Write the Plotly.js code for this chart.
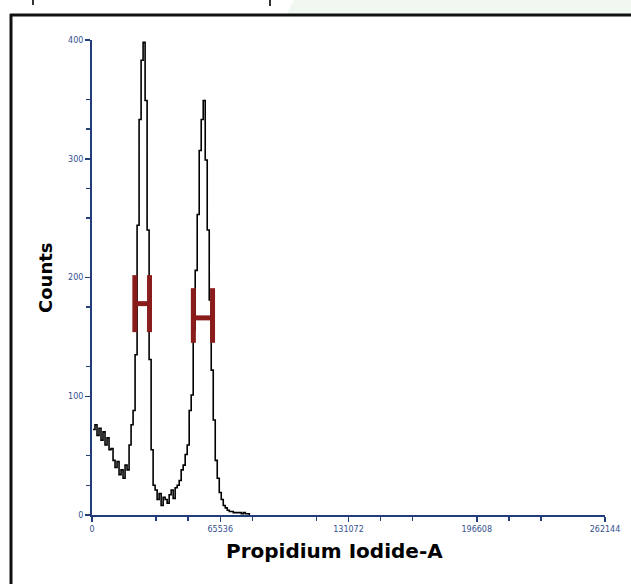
<!DOCTYPE html>
<html>
<head>
<meta charset="utf-8">
<script src="https://cdn.plot.ly/plotly-3.0.1.min.js"></script>
<style>html,body{margin:0;padding:0;background:#fff;}#chart{width:631px;height:584px;}</style>
</head>
<body>
<div id="chart"></div>
<script>
// Propidium Iodide-A channel (bin centres)
const piValues = [512,1536,2560,3584,4608,5632,6656,7680,8704,9728,
  10752,11776,12800,13824,14848,15872,16896,17920,18944,19968,
  20992,22016,23040,24064,25088,26112,27136,28160,29184,30208,
  31232,32256,33280,34304,35328,36352,37376,38400,39424,40448,
  41472,42496,43520,44544,45568,46592,47616,48640,49664,50688,
  51712,52736,53760,54784,55808,56832,57856,58880,59904,60928,
  61952,62976,64000,65024,66048,67072,68096,69120,70144,71168,
  72192,73216,74240,75264,76288,77312,78336,79360,80384];
// Counts per bin
const counts = [72,76,67,73,63,70,59,65,55,56,
  46,40,45,34,38,31,42,38,59,76,
  88,135,244,333,383,398,349,240,131,55,
  25,21,13,18,8,15,13,10,17,21,
  14,23,25,29,38,42,51,59,88,101,
  156,206,253,307,333,349,299,240,181,122,
  80,46,31,19,13,8,6,4,3,3,
  2,2,2,2,1,2,1,1,0];

// Range gate markers (H)
const gate1X = [21900, 29400];
const gate1Y = [154, 178, 202];
const gate2X = [51800, 61600];
const gate2Y = [145, 166, 191];

// Axis ticks
const xTickVals = [0, 65536, 131072, 196608, 262144];
const xTickText = ["0", "65536", "131072", "196608", "262144"];
const xMinorVals = [32768, 49152, 81920, 114688, 147456, 163840, 212992, 229376];
const yTickVals = [0, 100, 200, 300, 400];
const yTickText = ["0", "100", "200", "300", "400"];
const yMinorVals = [25, 50, 125, 175, 250, 275, 325, 350];
const xTitle = "Propidium Iodide-A";
const yTitle = "Counts";

const gateColor = "#8b1c1c";
function gateTrace(gx, gy) {
  return {
    x: [gx[0], gx[0], null, gx[1], gx[1], null, gx[0], gx[1]],
    y: [gy[0], gy[2], null, gy[0], gy[2], null, gy[1], gy[1]],
    mode: "lines", type: "scatter",
    line: {color: gateColor, width: 5},
    hoverinfo: "skip", showlegend: false
  };
}

const traces = [
  {x: piValues, y: counts, type: "scatter", mode: "lines",
   line: {color: "#000", width: 1.6, shape: "hv"}, showlegend: false},
  gateTrace(gate1X, gate1Y),
  gateTrace(gate2X, gate2Y)
];

const navy = "#223d7a";
const tickFont = {family: "DejaVu Sans", size: 8, color: "#33508f"};

const px = v => (v - 92) / 513;
const py = v => (515 - v) / 475;

const layout = {
  width: 631, height: 584,
  margin: {l: 92, r: 26, t: 40, b: 69},
  paper_bgcolor: "#fff", plot_bgcolor: "#fff",
  showlegend: false,
  xaxis: {
    range: [0, 262144], tickmode: "array", tickvals: xTickVals, ticktext: xTickText,
    showline: true, linecolor: navy, linewidth: 2, showgrid: false, zeroline: false,
    ticks: "outside", ticklen: 5, tickwidth: 1.5, tickcolor: navy, tickfont: tickFont,
    minor: {tickmode: "array", tickvals: xMinorVals, ticks: "outside", ticklen: 4, tickwidth: 1.5, tickcolor: navy, showgrid: false}
  },
  yaxis: {
    range: [0, 400], tickmode: "array", tickvals: yTickVals, ticktext: yTickText,
    showline: true, linecolor: navy, linewidth: 2, showgrid: false, zeroline: false,
    ticks: "outside", ticklen: 5, tickwidth: 1.5, tickcolor: navy, tickfont: tickFont,
    minor: {tickmode: "array", tickvals: yMinorVals, ticks: "outside", ticklen: 4, tickwidth: 1.5, tickcolor: navy, showgrid: false}
  },
  annotations: [
    {text: "<b>" + xTitle + "</b>", xref: "paper", yref: "paper", x: px(334), y: py(551),
     xanchor: "center", yanchor: "middle", showarrow: false,
     font: {family: "DejaVu Sans", size: 20, color: "#000"}},
    {text: "<b>" + yTitle + "</b>", xref: "paper", yref: "paper", x: px(45), y: py(278),
     xanchor: "center", yanchor: "middle", showarrow: false, textangle: -90,
     font: {family: "DejaVu Sans", size: 18, color: "#000"}}
  ],
  shapes: [
    {type: "path", xref: "paper", yref: "paper",
     path: `M ${px(287)} ${py(14)} L ${px(294)} ${py(0)} L ${px(631)} ${py(0)} L ${px(631)} ${py(14)} Z`,
     fillcolor: "#f0f8f1", line: {width: 0}, layer: "below"},
    {type: "line", xref: "paper", yref: "paper", x0: px(10), x1: px(631), y0: py(15), y1: py(15),
     line: {color: "#111", width: 3}},
    {type: "line", xref: "paper", yref: "paper", x0: px(11), x1: px(11), y0: py(14), y1: py(584),
     line: {color: "#111", width: 3}},
    {type: "line", xref: "paper", yref: "paper", x0: px(33), x1: px(33), y0: py(0), y1: py(5),
     line: {color: "#333", width: 2}},
    {type: "line", xref: "paper", yref: "paper", x0: px(270), x1: px(270), y0: py(0), y1: py(6),
     line: {color: "#333", width: 2}}
  ]
};

Plotly.newPlot("chart", traces, layout, {staticPlot: true, displayModeBar: false});
</script>
</body>
</html>
